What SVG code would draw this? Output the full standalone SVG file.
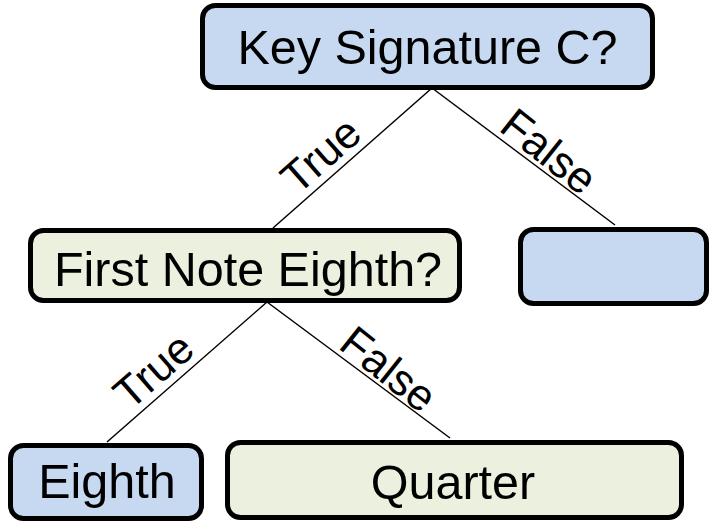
<svg xmlns="http://www.w3.org/2000/svg" width="711" height="522" viewBox="0 0 711 522">
  <style>
    .box { stroke: #000; stroke-width: 5; }
    .blue { fill: #c6d9f1; }
    .green { fill: #ebf1de; }
    .label { font-family: "Liberation Sans", Arial, sans-serif; font-size: 48.5px; fill: #000; text-anchor: middle; }
    .edge { stroke: #000; stroke-width: 1.5; fill: none; }
    .elabel { font-family: "Liberation Sans", Arial, sans-serif; font-size: 44px; fill: #000; text-anchor: middle; }
  </style>

  <!-- connectors with their branch labels -->
  <g id="connectors">
    <line class="edge" x1="432" y1="88" x2="273" y2="228"/>
    <line class="edge" x1="432" y1="88" x2="615" y2="225"/>
    <line class="edge" x1="267" y1="302" x2="107" y2="442"/>
    <line class="edge" x1="267" y1="302" x2="450" y2="438"/>
    <text class="elabel" transform="translate(273,228) rotate(-41.4)" x="84" y="-8">True</text>
    <text class="elabel" transform="translate(432,88) rotate(38.5)" x="131" y="-8">False</text>
    <text class="elabel" transform="translate(107,442) rotate(-41.2)" x="82" y="-8">True</text>
    <text class="elabel" transform="translate(267,302) rotate(38.5)" x="137" y="-8">False</text>
  </g>

  <g id="key-signature">
    <rect class="box blue" x="202.5" y="5.5" width="450" height="82" rx="13"/>
    <text class="label" x="427.5" y="64">Key Signature C?</text>
  </g>

  <g id="first-note">
    <rect class="box green" x="30.5" y="230.5" width="429" height="70" rx="13"/>
    <text class="label" x="248" y="286">First Note Eighth?</text>
  </g>

  <g id="false-leaf">
    <rect class="box blue" x="520.5" y="229.5" width="186" height="74" rx="13"/>
  </g>

  <g id="eighth">
    <rect class="box blue" x="10.5" y="445.5" width="191" height="73" rx="13"/>
    <text class="label" x="107" y="498">Eighth</text>
  </g>

  <g id="quarter">
    <rect class="box green" x="227.5" y="442.5" width="454" height="75" rx="13"/>
    <text class="label" x="453" y="499">Quarter</text>
  </g>
</svg>
